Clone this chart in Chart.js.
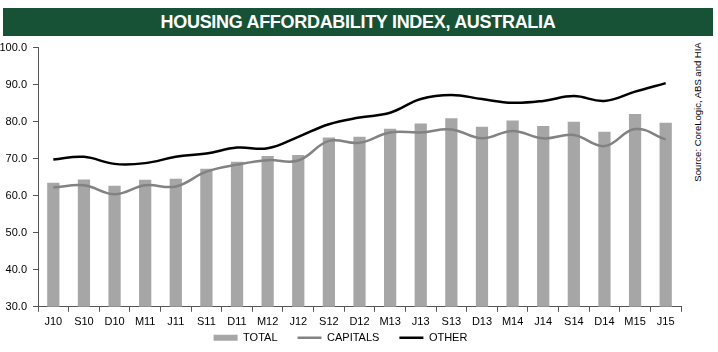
<!DOCTYPE html>
<html lang="en">
<head>
    <meta charset="UTF-8">
    <title>Housing Affordability Index, Australia</title>
    <script src="https://cdn.jsdelivr.net/npm/chart.js"></script>
    <style>
        body {
            margin: 0;
            width: 718px;
            height: 352px;
            background: #fff;
            font-family: "Liberation Sans", Arial, sans-serif;
            position: relative;
            overflow: hidden;
        }

        /* barra verde do titulo */
        .title-bar {
            position: absolute;
            left: 3px;
            top: 8px;
            width: 710px;
            height: 28px;
            background-color: #175236;
            color: #fff;
            font-weight: bold;
            font-size: 18px;
            line-height: 29px;
            text-align: center;
            letter-spacing: -0.3px;
        }

        .chart-box {
            position: absolute;
            left: 0;
            top: 35px;
            width: 690px;
            height: 317px;
        }

        .source {
            position: absolute;
            left: 697px;
            top: 112px;
            transform: translate(-50%, -50%) rotate(-90deg);
            white-space: nowrap;
            font-size: 9.5px;
            color: #000;
        }
    </style>
</head>
<body>

    <div class="title-bar">HOUSING AFFORDABILITY INDEX, AUSTRALIA</div>

    <div class="chart-box">
        <canvas id="hai"></canvas>
    </div>

    <div class="source">Source: CoreLogic, ABS and HIA</div>

    <script>
        // dados
        const quarters = ['J10', 'S10', 'D10', 'M11', 'J11', 'S11', 'D11', 'M12', 'J12', 'S12', 'D12',
                          'M13', 'J13', 'S13', 'D13', 'M14', 'J14', 'S14', 'D14', 'M15', 'J15'];
        const total    = [63.5, 64.4, 62.7, 64.3, 64.6, 67.3, 69.2, 70.7, 71.0, 75.7, 75.9,
                          78.1, 79.5, 80.9, 78.6, 80.3, 78.8, 80.0, 77.3, 82.1, 79.7];
        const capitals = [62.2, 62.8, 60.4, 62.8, 62.5, 66.5, 68.4, 69.6, 69.5, 74.8, 74.3,
                          77.1, 77.1, 77.9, 75.5, 77.5, 75.5, 76.4, 73.4, 78.0, 75.2];
        const other    = [69.8, 70.5, 68.6, 68.8, 70.5, 71.4, 73.0, 72.8, 75.9, 79.3, 81.1,
                          82.4, 86.1, 87.2, 86.1, 85.1, 85.6, 86.9, 85.6, 88.1, 90.4];

        const fontFamily = '"Liberation Sans", Arial, sans-serif';
        const axisColor = '#555';

        // legenda ocupa pouco espaco no layout mas desenha mais abaixo
        const moveLegend = {
            id: 'moveLegend',
            afterLayout(chart) {
                const lg = chart.legend;
                lg.top = chart.chartArea.bottom + 5.5;
                lg.bottom = chart.height;
            }
        };

        const ctx = document.getElementById('hai').getContext('2d');
        const chart = new Chart(ctx, {
            type: 'bar',
            data: {
                labels: quarters,
                datasets: [{
                    label: 'TOTAL',
                    data: total,
                    backgroundColor: '#a6a6a6',
                    barPercentage: 0.4,
                    categoryPercentage: 1.0,
                    order: 2
                }, {
                    type: 'line',
                    label: 'CAPITALS',
                    data: capitals,
                    borderColor: '#828282',
                    backgroundColor: '#828282',
                    borderWidth: 2.5,
                    pointRadius: 0,
                    tension: 0.4,
                    order: 1
                }, {
                    type: 'line',
                    label: 'OTHER',
                    data: other,
                    borderColor: '#000',
                    backgroundColor: '#000',
                    borderWidth: 2.5,
                    pointRadius: 0,
                    tension: 0.4,
                    order: 0
                }]
            },
            options: {
                responsive: true,
                maintainAspectRatio: false,
                animation: false,
                layout: {
                    padding: { top: 0, right: 9, left: 0, bottom: 0 }
                },
                plugins: {
                    tooltip: { enabled: false },
                    legend: {
                        position: 'bottom',
                        maxHeight: 19,
                        labels: {
                            color: '#000',
                            font: { family: fontFamily, size: 11 },
                            usePointStyle: true,
                            pointStyleWidth: 24,
                            boxHeight: 6,
                            padding: 20,
                            sort: (a, b) => a.datasetIndex - b.datasetIndex,
                            generateLabels: (c) => {
                                const items = Chart.defaults.plugins.legend.labels.generateLabels(c);
                                items.forEach(it => {
                                    it.pointStyle = it.datasetIndex === 0 ? 'rect' : 'line';
                                    if (it.datasetIndex === 0) it.lineWidth = 0;
                                });
                                return items;
                            }
                        }
                    }
                },
                scales: {
                    x: {
                        grid: {
                            display: true,
                            drawOnChartArea: false,
                            tickLength: 5,
                            color: axisColor
                        },
                        border: { color: axisColor, width: 1 },
                        ticks: {
                            color: '#000',
                            font: { family: fontFamily, size: 11 },
                            maxRotation: 0,
                            autoSkip: false,
                            padding: 4
                        }
                    },
                    y: {
                        min: 30,
                        max: 100,
                        grid: {
                            display: true,
                            drawOnChartArea: false,
                            tickLength: 5,
                            color: axisColor
                        },
                        border: { color: axisColor, width: 1 },
                        ticks: {
                            stepSize: 10,
                            color: '#000',
                            font: { family: fontFamily, size: 11 },
                            padding: 6,
                            callback: (v) => v.toFixed(1)
                        },
                        afterFit: (scale) => { scale.width = 38; }
                    }
                }
            },
            plugins: [moveLegend]
        });
    </script>

</body>
</html>
